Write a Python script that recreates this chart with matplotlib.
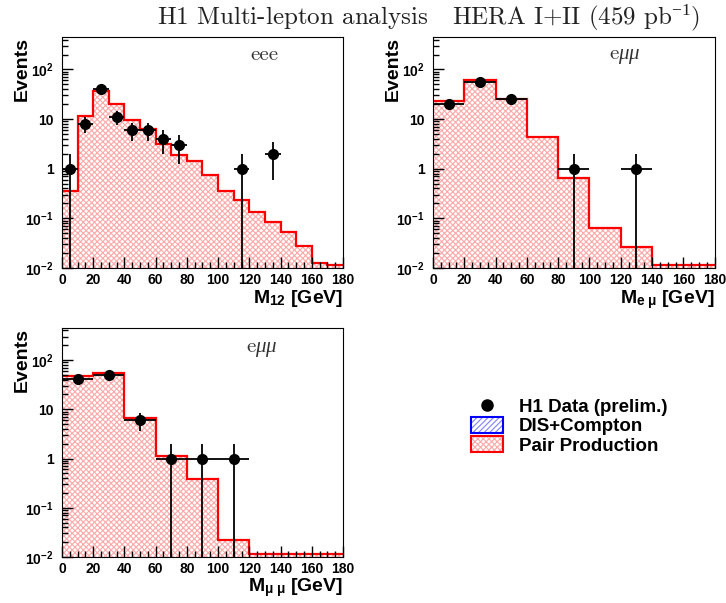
import numpy as np
import matplotlib.pyplot as plt
from matplotlib.lines import Line2D
from matplotlib.patches import Patch
from matplotlib.ticker import FixedLocator, FixedFormatter, MultipleLocator, LogLocator, NullFormatter

plt.rcParams['font.family'] = 'Liberation Sans'
plt.rcParams['mathtext.fontset'] = 'custom'
plt.rcParams['mathtext.rm'] = 'Liberation Serif:weight=normal'
plt.rcParams['mathtext.it'] = 'Liberation Serif:style=italic:weight=normal'
plt.rcParams['mathtext.bf'] = 'Liberation Sans:weight=bold'
plt.rcParams['hatch.linewidth'] = 0.8

# eee channel, M12, 10 GeV bins
eee_edges = np.arange(0, 181, 10)
eee_pair = [0.35, 11.5, 36.6, 20, 9.8, 6.2, 3.2, 1.9, 1.4, 0.76, 0.36, 0.23,
            0.135, 0.083, 0.053, 0.027, 0.0115, 0.0105]
eee_dis = [0.001] * 18
eee_x = [5, 15, 25, 35, 45, 55, 65, 75, 115, 135]
eee_n = [1, 8, 40, 11, 6, 6, 4, 3, 1, 2]

# e mu mu channel, M_e mu, 20 GeV bins
emu_edges = np.arange(0, 181, 20)
emu_pair = [23, 62, 25, 4.3, 0.64, 0.064, 0.026, 0.0103, 0.0103]
emu_dis = [0.001] * 9
emu_x = [10, 30, 50, 90, 130]
emu_n = [20, 55, 25, 1, 1]

# e mu mu channel, M_mu mu, 20 GeV bins
mumu_edges = np.arange(0, 181, 20)
mumu_pair = [48, 55, 6.7, 1.13, 0.38, 0.021, 0.0103, 0.0103, 0.0103]
mumu_dis = [0.001] * 9
mumu_x = [10, 30, 50, 70, 90, 110]
mumu_n = [42, 50, 6, 1, 1, 1]

ytick_vals = [0.01, 0.1, 1, 10, 100]
ytick_labels = [r'$\mathbf{10^{-2}}$', r'$\mathbf{10^{-1}}$', '1', '10', r'$\mathbf{10^{2}}$']

PAIR_HATCH = '#ffa8a8'
DIS_HATCH = '#8080ff'


def draw_panel(ax, edges, pair, dis, x, n, xerr, xlabel, tag, tagpos):
    dis = np.asarray(dis)
    top = dis + np.asarray(pair)
    ax.stairs(dis, edges, baseline=1e-4, fill=True, facecolor='white',
              edgecolor=DIS_HATCH, hatch='//////', linewidth=0)
    ax.stairs(dis, edges, baseline=None, color='blue', lw=1)
    ax.stairs(top, edges, baseline=dis, fill=True, facecolor='none',
              edgecolor=PAIR_HATCH, hatch='xxxxxx', linewidth=0)
    ax.stairs(top, edges, baseline=None, color='red', lw=1.6)
    n = np.asarray(n, dtype=float)
    ax.errorbar(x, n, xerr=xerr, yerr=np.sqrt(n), fmt='o', color='black',
                ms=7, elinewidth=1.3, capsize=0, zorder=5)

    ax.set_yscale('log')
    ax.set_xlim(0, 180)
    ax.set_ylim(0.01, 450)
    ax.yaxis.set_major_locator(FixedLocator(ytick_vals))
    ax.yaxis.set_major_formatter(FixedFormatter(ytick_labels))
    ax.yaxis.set_minor_locator(LogLocator(subs=np.arange(2, 10)))
    ax.yaxis.set_minor_formatter(NullFormatter())
    ax.xaxis.set_major_locator(MultipleLocator(20))
    ax.xaxis.set_minor_locator(MultipleLocator(5))
    ax.tick_params(which='both', direction='in', top=False, right=False, width=1)
    ax.tick_params(which='major', length=8)
    ax.tick_params(which='minor', length=4)
    ax.tick_params(axis='x', labelsize=10, pad=3.5)
    ax.tick_params(axis='y', labelsize=10, pad=6)
    for lbl in ax.get_xticklabels() + ax.get_yticklabels():
        lbl.set_fontweight('bold')

    ax.set_xlabel(xlabel, fontsize=14, fontweight='bold', loc='right')
    ax.xaxis.set_label_coords(1.0, -0.085)
    ax.set_ylabel('Events', fontsize=14, fontweight='bold', loc='top')
    ax.yaxis.set_label_coords(-0.11, 1.0)
    ax.text(tagpos[0], tagpos[1], tag, transform=ax.transAxes, fontsize=15,
            fontfamily='cmr10', ha='center', va='center', color='#333333')


fig = plt.figure(figsize=(7.26, 6.03), dpi=100)
ax1 = fig.add_axes([0.0854, 0.5556, 0.387, 0.383])
ax2 = fig.add_axes([0.5964, 0.5556, 0.388, 0.383])
ax3 = fig.add_axes([0.0854, 0.0763, 0.387, 0.380])

draw_panel(ax1, eee_edges, eee_pair, eee_dis, eee_x, eee_n, 5,
           r'M$_{\mathbf{12}}$ [GeV]', 'eee', (0.72, 0.92))
draw_panel(ax2, emu_edges, emu_pair, emu_dis, emu_x, emu_n, 10,
           r'M$_{\mathbf{e\ \mu}}$ [GeV]', r'e$\mu\mu$', (0.68, 0.915))
draw_panel(ax3, mumu_edges, mumu_pair, mumu_dis, mumu_x, mumu_n, 10,
           r'M$_{\mathbf{\mu\ \mu}}$ [GeV]', r'e$\mu\mu$', (0.71, 0.905))

fig.text(0.59, 0.971, r'H1 Multi-lepton analysis   HERA I+II (459 pb$^{-1}$)',
         fontsize=18, fontfamily='cmr10', ha='center', va='center', color='#222222')

handles = [Line2D([], [], marker='o', color='black', ls='none', ms=8),
           (Patch(facecolor='white', edgecolor=DIS_HATCH, hatch='//////', lw=0),
            Patch(facecolor='none', edgecolor='blue', lw=1.5)),
           (Patch(facecolor='white', edgecolor=PAIR_HATCH, hatch='xxxxxx', lw=0),
            Patch(facecolor='none', edgecolor='red', lw=1.5))]
labels = ['H1 Data (prelim.)', 'DIS+Compton', 'Pair Production']
fig.legend(handles, labels, loc='upper left', bbox_to_anchor=(471 / 726, 1 - 398 / 603),
           frameon=False, prop={'family': 'Liberation Sans', 'weight': 'bold', 'size': 13.5},
           handlelength=1.7, handleheight=0.9, labelspacing=0.05, handletextpad=0.85,
           borderpad=0, borderaxespad=0)

fig.savefig('out.png', dpi=100)
